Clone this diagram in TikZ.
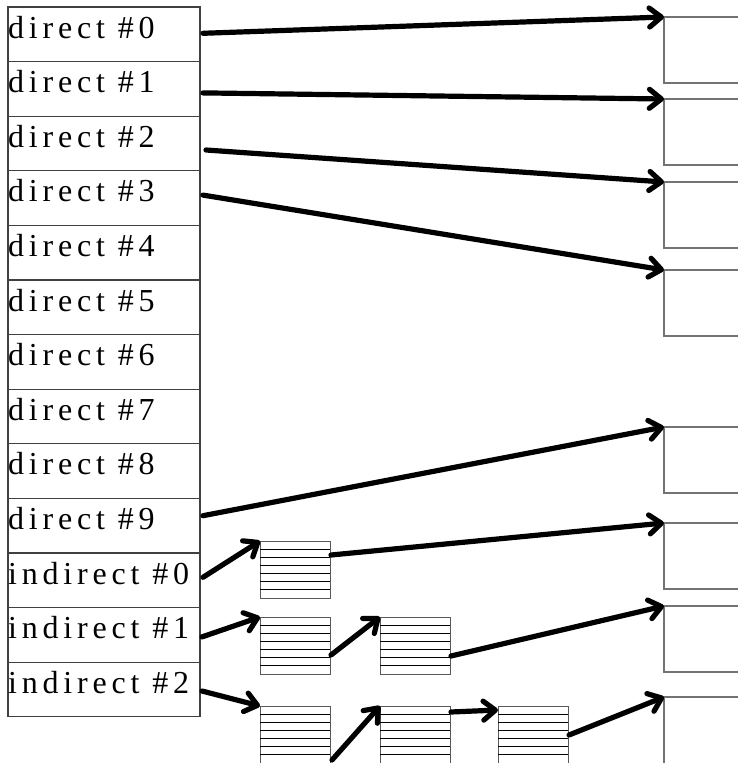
\documentclass[tikz,border=0pt]{standalone}
\usepackage{fontspec}
\setmainfont{Liberation Serif}[LetterSpace=15]
\usetikzlibrary{arrows.meta,calc}

\begin{document}
\begin{tikzpicture}[x=1pt,y=-1pt,
  cell/.style={draw=black!75, line width=1.2pt, minimum width=192pt,
    minimum height=54.6pt, inner sep=0pt, outer sep=0pt, anchor=north west},
  celltext/.style={anchor=base west, inner sep=0pt,
    font=\fontsize{32}{34}\selectfont},
  block/.style={draw=black!55, line width=1.3pt, minimum width=100pt,
    minimum height=66pt, inner sep=0pt, outer sep=0pt, anchor=north west},
  tbl/.style={draw=black!65, line width=1pt, minimum width=70pt,
    minimum height=57pt, inner sep=0pt, outer sep=0pt, anchor=north west},
  tblrule/.style={draw=black, line width=0.9pt},
  ptr/.style={line width=5.2pt, line cap=round,
    -{Straight Barb[length=12pt,width=19pt,line cap=round,line join=round]}}]

  \clip (0,0) rectangle (738,763);

  % inode pointer column
  \foreach \i in {0,...,9} {
    \node[cell] (r\i) at (8,{7+54.6*\i}) {};
    \node[celltext] (n\i) at ([shift={(0,31)}]r\i.north west) {direct \#\i};
  }
  \foreach \j [evaluate=\j as \i using int(\j+10)] in {0,1,2} {
    \node[cell] (r\i) at (8,{7+54.6*\i}) {};
    \node[celltext] (n\i) at ([shift={(0,31)}]r\i.north west) {indirect \#\j};
  }

  % data blocks
  \node[block] (b0) at (664,17) {};
  \node[block] (b1) at (664,99) {};
  \node[block] (b2) at (664,182) {};
  \node[block] (b3) at (664,270) {};
  \node[block] (b4) at (664,427) {};
  \node[block] (b5) at (664,523) {};
  \node[block] (b6) at (664,606) {};
  \node[block, minimum height=90pt] (b7) at (664,697) {};

  % indirect blocks (tables of pointers)
  \node[tbl] (t1) at (260,541) {};
  \node[tbl] (t2) at (260,617) {};
  \node[tbl] (t3) at (380,617) {};
  \node[tbl] (t4) at (260,706) {};
  \node[tbl] (t5) at (380,706) {};
  \node[tbl] (t6) at (498,706) {};
  \foreach \t in {t1,t2,t3,t4,t5,t6}
    \foreach \k in {1,...,6}
      \draw[tblrule] ($(\t.north west)!\k/7!(\t.south west)$)
        -- ($(\t.north east)!\k/7!(\t.south east)$);

  % direct pointers
  \draw[ptr] ([shift={(3,-1)}]r0.east) -- (b0.north west);
  \draw[ptr] ([shift={(3,4)}]r1.east) -- (b1.north west);
  \draw[ptr] ([shift={(6,6.5)}]r2.east) -- (b2.north west);
  \draw[ptr] ([shift={(3,-3)}]r3.east) -- (b3.north west);
  \draw[ptr] ([shift={(3,-10)}]r9.east) -- (b4.north west);

  % single indirect
  \draw[ptr] ([shift={(3,-3)}]r10.east) -- (t1.north west);
  \draw[ptr] ([shift={(1,14)}]t1.north east) -- (b5.north west);

  % double indirect
  \draw[ptr] ([shift={(2,2)}]r11.east) -- (t2.north west);
  \draw[ptr] ([shift={(1,38)}]t2.north east) -- (t3.north west);
  \draw[ptr] ([shift={(1,39)}]t3.north east) -- (b6.north west);

  % triple indirect
  \draw[ptr] ([shift={(2,1.5)}]r12.east) -- (t4.north west);
  \draw[ptr] ([shift={(2,54)}]t4.north east) -- (t5.north west);
  \draw[ptr] ([shift={(1,6)}]t5.north east) -- ([shift={(0,4)}]t6.north west);
  \draw[ptr] ([shift={(1,29)}]t6.north east) -- (b7.north west);
\end{tikzpicture}
\end{document}
